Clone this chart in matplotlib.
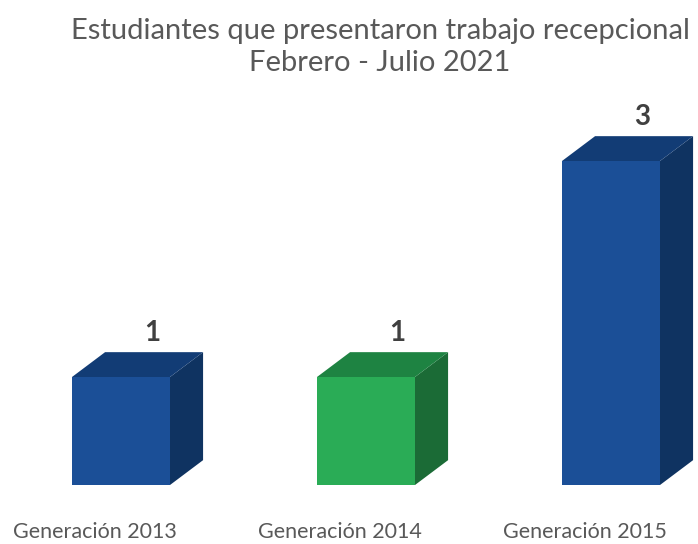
import matplotlib
matplotlib.use('Agg')
import matplotlib.pyplot as plt
from matplotlib.patches import Polygon

categories = ['Generación 2013', 'Generación 2014', 'Generación 2015']
values = [1, 1, 3]
front_colors = ['#1b4f97', '#2aac56', '#1b4f97']
top_colors = ['#123c75', '#1e8342', '#123c75']
side_colors = ['#0f3361', '#1b6b36', '#0f3361']

title = 'Estudiantes que presentaron trabajo recepcional\nFebrero - Julio 2021'
text_gray = '#595959'

plt.rcParams['font.family'] = ['Lato', 'DejaVu Sans']

fig = plt.figure(figsize=(6.98, 5.44), dpi=100)
ax = fig.add_axes([0, 59 / 544, 1, 385 / 544])
ax.set_xlim(-121 / 245, (698 - 121) / 245)
ax.set_ylim(0, 385 / 108)
ax.axis('off')

width = 0.4
dx, dy = 0.135, 0.23

for i, (v, fc, tc, sc) in enumerate(zip(values, front_colors, top_colors, side_colors)):
    x0, x1 = i - width / 2, i + width / 2
    front = Polygon([(x0, 0), (x1, 0), (x1, v), (x0, v)], closed=True, facecolor=fc, edgecolor='none')
    top = Polygon([(x0, v), (x1, v), (x1 + dx, v + dy), (x0 + dx, v + dy)], closed=True,
                  facecolor=tc, edgecolor='none', clip_on=False)
    side = Polygon([(x1, 0), (x1 + dx, dy), (x1 + dx, v + dy), (x1, v)], closed=True,
                   facecolor=sc, edgecolor='none', clip_on=False)
    for p in (side, top, front):
        ax.add_patch(p)
    ax.text(i + 0.127, v + dy + 0.18, str(v), ha='center', va='center', fontsize=20,
            fontweight='bold', color='#404040', clip_on=False)
    ax.text(i - 0.106, -0.435, categories[i], ha='center', va='center', fontsize=15.5,
            color=text_gray, clip_on=False)

fig.text(380 / 698, 1 - 47 / 544, title, ha='center', va='center', fontsize=21,
         color=text_gray, linespacing=1.3)

fig.savefig('out.png', dpi=100)
